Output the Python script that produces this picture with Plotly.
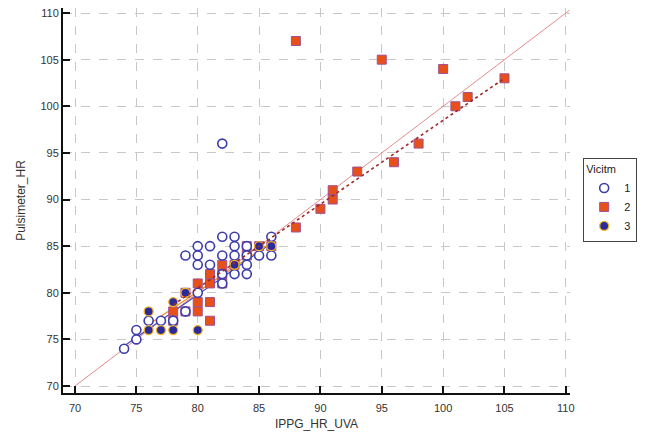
import plotly.graph_objects as go

# Series 1 (open circles)
x1 = [82, 82, 83, 86, 80, 81, 83, 84, 79, 80, 82, 83, 84, 85, 86, 80, 81, 84, 82, 83, 84, 82, 80, 79, 76, 77, 78, 75, 75, 74]
y1 = [96, 86, 86, 86, 85, 85, 85, 85, 84, 84, 84, 84, 84, 84, 84, 83, 83, 83, 82, 82, 82, 81, 80, 78, 77, 77, 77, 76, 75, 74]
# Series 2 (squares)
x2 = [88, 95, 100, 105, 102, 101, 98, 96, 93, 91, 91, 90, 88,
      84, 85, 86, 84, 82, 83, 81, 82, 80, 81, 82, 79, 80, 81, 78, 79, 80, 78, 81]
y2 = [107, 105, 104, 103, 101, 100, 96, 94, 93, 91, 90, 89, 87,
      85, 85, 85, 84, 83, 83, 82, 82, 81, 81, 81, 80, 79, 79, 78, 78, 78, 77, 77]
# Series 3 (filled circles)
x3 = [86, 85, 83, 79, 78, 76, 76, 77, 78, 80]
y3 = [85, 85, 83, 80, 79, 78, 76, 76, 76, 76]

# Fit / reference lines (endpoints)
identity_x = [70, 110.3]
identity_y = [70, 110.3]
fit1_x = [74, 86]
fit1_y = [74.3, 85.3]
fit2_x = [78, 105]
fit2_y = [78.7, 103.0]
fit3_x = [76, 86]
fit3_y = [76.6, 85.4]

xticks = [70, 75, 80, 85, 90, 95, 100, 105, 110]
yticks = [70, 75, 80, 85, 90, 95, 100, 105, 110]

FONT = "Liberation Sans, Arial"

fig = go.Figure()

fig.add_trace(go.Scatter(x=identity_x, y=identity_y, mode="lines",
                         line=dict(color="rgba(220,110,110,0.8)", width=1),
                         showlegend=False, hoverinfo="skip"))
fig.add_trace(go.Scatter(x=fit1_x, y=fit1_y, mode="lines",
                         line=dict(color="#4a4ab8", width=1.2),
                         showlegend=False, hoverinfo="skip"))
fig.add_trace(go.Scatter(x=fit3_x, y=fit3_y, mode="lines",
                         line=dict(color="#e8902a", width=1.2),
                         showlegend=False, hoverinfo="skip"))

fig.add_trace(go.Scatter(x=x2, y=y2, mode="markers", name="2", legendrank=2,
                         marker=dict(symbol="square", size=9, color="#e8501a",
                                     line=dict(color="#a05090", width=1))))
fig.add_trace(go.Scatter(x=x1, y=y1, mode="markers", name="1", legendrank=1,
                         marker=dict(symbol="circle", size=9, color="white",
                                     line=dict(color="#3c3caa", width=1.6))))
fig.add_trace(go.Scatter(x=x3, y=y3, mode="markers", name="3", legendrank=3,
                         marker=dict(symbol="circle", size=9, color="#2a2a9a",
                                     line=dict(color="#f0b428", width=1.3))))
fig.add_trace(go.Scatter(x=fit2_x, y=fit2_y, mode="lines",
                         line=dict(color="#a02828", width=1.6, dash="dot"),
                         showlegend=False, hoverinfo="skip"))

axis_common = dict(
    showline=True, linecolor="#111", linewidth=2, mirror=False,
    ticks="inside", ticklen=7, tickwidth=2, tickcolor="#111",
    showgrid=True, gridcolor="#c8c8c8", gridwidth=1, griddash="dash",
    zeroline=False, automargin=False, ticklabeloverflow="allow",
    tickfont=dict(family=FONT, size=11, color="#333"),
)

fig.update_xaxes(range=[69.02, 110.34], tickvals=xticks, ticklabelstandoff=4,
                 title=dict(text="IPPG_HR_UVA", font=dict(family=FONT, size=12, color="#333"), standoff=6),
                 **axis_common)
fig.update_yaxes(range=[69.25, 110.54], tickvals=yticks,
                 title=dict(text="Pulsimeter_HR", font=dict(family=FONT, size=12, color="#333"), standoff=12),
                 **axis_common)

fig.update_layout(
    width=647, height=435,
    margin=dict(l=55, r=85, t=0, b=50, autoexpand=False),
    paper_bgcolor="white", plot_bgcolor="white",
    legend=dict(x=1.026, y=0.61, xanchor="left", yanchor="top",
                bordercolor="#444", borderwidth=1, bgcolor="white",
                title=dict(text="Vicitm", font=dict(family=FONT, size=11, color="#222")),
                font=dict(family=FONT, size=11, color="#222"),
                tracegroupgap=0, itemwidth=30),
    showlegend=True,
)

fig.write_html("out.html")
